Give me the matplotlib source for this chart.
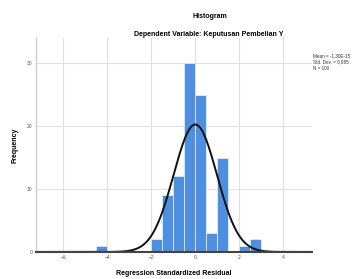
import numpy as np
import matplotlib
matplotlib.use('Agg')
import matplotlib.pyplot as plt

plt.rcParams['font.family'] = ['Liberation Sans', 'DejaVu Sans']

# Histogram bins (left edges) and counts
bin_left = [-4.5, -2.0, -1.5, -1.0, -0.5, 0.0, 0.5, 1.0, 2.0, 2.5]
counts = [1, 2, 9, 12, 30, 25, 3, 15, 1, 2]
bin_width = 0.5

mean = -1.30e-15
std_dev = 0.985
n = 100

x_ticks = [-6, -4, -2, 0, 2, 4]
y_ticks = [0, 10, 20, 30]

fig = plt.figure(figsize=(3.53, 2.79), dpi=100)
ax = fig.add_axes([0.102, 0.097, 0.781, 0.767])

ax.bar(bin_left, counts, width=bin_width, align='edge',
       color='#4f8fe0', edgecolor='white', linewidth=0.4, zorder=2)

# normal curve scaled to counts
xs = np.linspace(-7.25, 5.3, 400)
ys = n * bin_width / (std_dev * np.sqrt(2 * np.pi)) * np.exp(-0.5 * ((xs - mean) / std_dev) ** 2)
ax.plot(xs, ys, color='#111111', lw=1.4, zorder=3)

ax.set_xlim(-7.25, 5.3)
ax.set_ylim(0, 34)
ax.set_xticks(x_ticks)
ax.set_yticks(y_ticks)
ax.tick_params(length=0, labelsize=3.6, colors='#555555', pad=2.5)
ax.grid(True, color='#e0e0e0', lw=0.8, zorder=0)
ax.set_axisbelow(True)

for side in ['top', 'right']:
    ax.spines[side].set_visible(False)
ax.spines['left'].set_color('#cccccc')
ax.spines['left'].set_linewidth(1.0)
ax.spines['bottom'].set_color('#444444')
ax.spines['bottom'].set_linewidth(1.5)
ax.spines['bottom'].set_zorder(4)

ax.set_xlabel('Regression Standardized Residual', fontsize=5, fontweight='bold', labelpad=7)
ax.set_ylabel('Frequency', fontsize=5, fontweight='bold', labelpad=6)

fig.text(0.595, 0.941, 'Histogram', ha='center', va='center', fontsize=5, fontweight='bold')
fig.text(0.59, 0.877, 'Dependent Variable: Keputusan Pembelian Y', ha='center', va='center',
         fontsize=5, fontweight='bold')

legend_txt = 'Mean = -1,30E-15\nStd. Dev. = 0,985\nN = 100'
fig.text(0.888, 0.808, legend_txt, ha='left', va='top', fontsize=3.3, color='#333333', linespacing=1.3)

fig.savefig('out.png', dpi=100)
